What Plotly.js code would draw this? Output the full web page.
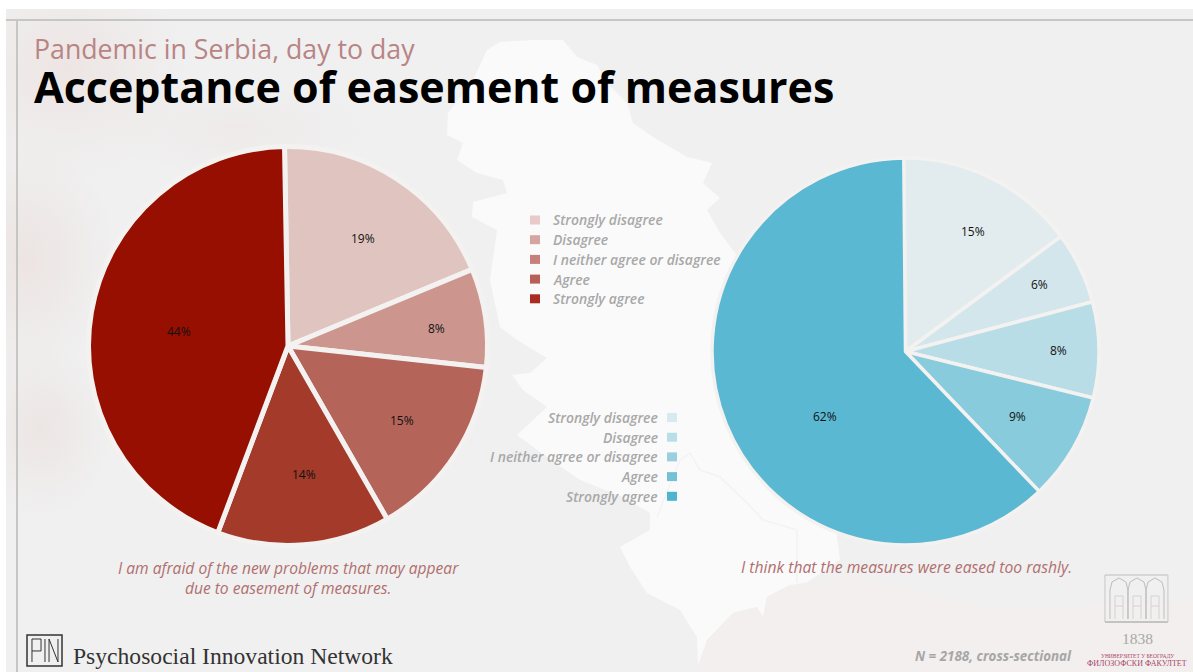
<!DOCTYPE html>
<html>
<head>
<meta charset="utf-8">
<script src="https://cdn.plot.ly/plotly-3.0.1.min.js"></script>
<style>
  html, body { margin: 0; padding: 0; background: #fff; overflow: hidden; }
  #stage { position: absolute; left: 0; top: 0; width: 1193px; height: 672px; }
  #haze { position: absolute; left: 6px; top: 9px; width: 1187px; height: 663px; background:
    radial-gradient(ellipse 120px 110px at 60px 60px, rgba(226,190,184,.22), transparent),
    radial-gradient(ellipse 90px 120px at 20px 250px, rgba(220,180,175,.20), transparent),
    radial-gradient(ellipse 70px 90px at 35px 420px, rgba(220,180,175,.18), transparent),
    radial-gradient(ellipse 130px 50px at 230px 120px, rgba(226,200,195,.15), transparent),
    #f0f0f0; }
  #chart { position: absolute; left: 0; top: 0; width: 1193px; height: 672px; }
</style>
</head>
<body>
<div id="stage"><div id="haze"></div><div id="chart"></div></div>
<script>
// Survey answers, shared scale for both pies
const answers = ['Strongly disagree', 'Disagree', 'I neither agree or disagree', 'Agree', 'Strongly agree'];
const afraidValues = [19, 8, 15, 14, 44];
const rashlyValues = [15, 6, 8, 9, 62];

// Slice and legend colours
const redSlices = ['#e0c4bf', '#cc968e', '#b5645a', '#a33a2a', '#960f00'];
const blueSlices = ['#e2ecef', '#d2e6ec', '#b8dde7', '#88cbdd', '#5ab8d3'];
const redKeys = ['#e8cbc8', '#d4a5a1', '#c67f7a', '#b85f56', '#a82c20'];
const blueKeys = ['#d8e9f0', '#b8dfe8', '#9acfe0', '#74c1d6', '#4fb5cf'];

// Where each percentage sits on its pie
const afraidSpots = [[363,238],[436,328],[402,420],[304,474],[179,331]];
const rashlySpots = [[973,231],[1039,285],[1058,350],[1017,416],[825,416]];

const W = 1193, H = 672;
const fx = x => x / W;
const fy = y => 1 - y / H;

// Builds a paper-referenced SVG path from page positions
function pathOf(points, close) {
  const cmds = points.map((p, i) => (i ? 'L' : 'M') + fx(p[0]).toFixed(4) + ' ' + fy(p[1]).toFixed(4));
  return cmds.join(' ') + (close ? ' Z' : '');
}
function lineShape(points, color, width, close, fill) {
  return { type: 'path', xref: 'paper', yref: 'paper', layer: 'below', path: pathOf(points, close),
           line: { color: color, width: width }, fillcolor: fill || 'rgba(0,0,0,0)' };
}
function boxShape(x0, y0, x1, y1, fill, color, width) {
  return { type: 'rect', xref: 'paper', yref: 'paper', layer: 'below',
           x0: fx(x0), x1: fx(x1), y0: fy(y0), y1: fy(y1),
           fillcolor: fill, line: { color: color || fill, width: width === undefined ? 0 : width } };
}
function label(text, x, y, size, color, opts) {
  return Object.assign({ xref: 'paper', yref: 'paper', x: fx(x), y: fy(y), text: text, showarrow: false,
    xanchor: 'left', yanchor: 'middle', align: 'left',
    font: { family: '"Open Sans", sans-serif', size: size, color: color } }, opts || {});
}

// Country outline behind the charts
const countryOutline = [[487,50],[500,42],[533,40],[563,40],[577,57],[597,65],[607,83],[627,103],[633,123],[653,137],
  [687,157],[712,163],[703,183],[720,198],[707,210],[720,233],[770,300],[830,480],[840,560],[800,587],[790,585],
  [767,597],[763,617],[757,607],[733,613],[707,640],[698,665],[697,637],[680,610],[647,593],[630,567],[620,547],
  [650,530],[650,513],[623,497],[580,480],[547,457],[517,435],[547,407],[523,390],[512,375],[530,373],[547,358],
  [517,340],[500,327],[490,280],[497,230],[472,217],[473,202],[507,193],[503,180],[477,173],[457,160],[463,143],
  [447,135],[448,113],[473,80]];
const southBorder = [[657,517],[680,460],[690,453],[700,470],[720,477],[747,503],[763,520],[797,530],[797,583]];
const southeastLand = [[698,672],[707,640],[733,613],[757,607],[763,617],[767,597],[790,585],[860,575],[1000,610],[1193,600],[1193,672]];

const shapes = [
  boxShape(6, 19, 1193, 21, '#c6c6c6'),
  boxShape(16, 19, 18, 672, '#c6c6c6'),
  lineShape(countryOutline, 'rgba(0,0,0,0)', 0, true, '#fafafa'),
  lineShape(southeastLand, 'rgba(0,0,0,0)', 0, true, '#f2efee'),
  lineShape(southBorder, '#f3f3f3', 1.5, false),
  // PIN mark
  boxShape(27, 635, 62, 666, 'rgba(0,0,0,0)', '#333333', 1.5),
  lineShape([[32,662],[32,639],[41,639],[41,651],[32,651]], '#333333', 1),
  lineShape([[45,639],[45,662]], '#333333', 1),
  lineShape([[49,662],[49,639],[58,662],[58,639]], '#333333', 1),
  // Faculty building mark
  lineShape([[1105,575],[1168,575]], '#bdbdbd', 1),
  lineShape([[1105,622],[1168,622]], '#b5b5b5', 1.5),
  lineShape([[1105,575],[1105,622]], '#c6c6c6', 1),
  lineShape([[1168,575],[1168,622]], '#c6c6c6', 1),
  lineShape([[1110,619],[1110,590],[1112,582],[1119,578],[1126,582],[1128,590],[1128,619]], '#bdbdbd', 1),
  lineShape([[1128,619],[1128,590],[1130,582],[1137,578],[1144,582],[1146,590],[1146,619]], '#bdbdbd', 1),
  lineShape([[1146,619],[1146,590],[1148,582],[1155,578],[1162,582],[1164,590],[1164,619]], '#bdbdbd', 1),
  lineShape([[1115,619],[1115,596],[1123,596],[1123,619]], '#d2d2d2', 1),
  lineShape([[1133,619],[1133,596],[1141,596],[1141,619]], '#d2d2d2', 1),
  lineShape([[1151,619],[1151,596],[1159,596],[1159,619]], '#d2d2d2', 1),
  lineShape([[1115,606],[1123,606]], '#d2d2d2', 1),
  lineShape([[1133,606],[1141,606]], '#d2d2d2', 1),
  lineShape([[1151,606],[1159,606]], '#d2d2d2', 1)
];

const serif = '"Liberation Serif", serif';
const sans = '"Open Sans", sans-serif';
const annotations = [
  label('Pandemic in Serbia, day to day', 31.5, 49, 26.7, '#b98484'),
  label('<b>Acceptance of easement of measures</b>', 31.5, 86, 43, '#000000'),
  label('<i>I am afraid of the new problems that may appear<br>due to easement of measures.</i>', 288, 578, 15.6, '#b06f6f',
        { xanchor: 'center', align: 'center' }),
  label('<i>I think that the measures were eased too rashly.</i>', 906, 567, 15.7, '#b06f6f', { xanchor: 'center', align: 'center' }),
  label('Psychosocial Innovation Network', 71, 656, 23.6, '#333333', { font: { family: serif, size: 23.6, color: '#333333' } }),
  label('<i><b>N = 2188, cross-sectional</b></i>', 1074, 656, 13.4, '#a6a6a6', { xanchor: 'right' }),
  label('1838', 1137, 638, 15.5, '#a8a8a8', { xanchor: 'center', font: { family: serif, size: 15.5, color: '#a8a8a8' } }),
  label('УНИВЕРЗИТЕТ У БЕОГРАДУ', 1137, 656, 5.5, '#a8456a', { xanchor: 'center', font: { family: serif, size: 5.5, color: '#a8456a' } }),
  label('ФИЛОЗОФСКИ ФАКУЛТЕТ', 1137, 663, 8, '#a8456a', { xanchor: 'center', font: { family: serif, size: 8, color: '#a8456a' } })
];

// Hand-placed keys: one reads left to right, the other right to left
const keyFont = { family: sans, size: 13.9, weight: 600, color: '#a8a8a8' };
answers.forEach((a, i) => {
  const y = 220 + i * 19.7;
  shapes.push(boxShape(530, y - 4.5, 540, y + 4.5, redKeys[i]));
  annotations.push(label('<i>' + a + '</i>', 551, y, 13.9, '#a8a8a8', { font: keyFont }));
  const y2 = 417.5 + i * 19.7;
  shapes.push(boxShape(667, y2 - 4.5, 677, y2 + 4.5, blueKeys[i]));
  annotations.push(label('<i>' + a + '</i>', 660, y2, 13.9, '#a8a8a8', { xanchor: 'right', align: 'right', font: keyFont }));
});

// Percent labels come straight from the slice values
function percentLabels(values, spots) {
  values.forEach((v, i) => {
    annotations.push(label(v + '%', spots[i][0], spots[i][1], 12, '#111111', { xanchor: 'center', align: 'center' }));
  });
}
percentLabels(afraidValues, afraidSpots);
percentLabels(rashlyValues, rashlySpots);

function pie(values, colors, cx, cy, r, seam, turn) {
  return {
    type: 'pie', labels: answers, values: values, sort: false, direction: 'clockwise', rotation: turn,
    marker: { colors: colors, line: { color: '#f3f2f1', width: seam } },
    textinfo: 'none', hoverinfo: 'label+percent', showlegend: false,
    domain: { x: [fx(cx - r), fx(cx + r)], y: [fy(cy + r), fy(cy - r)] }
  };
}

Plotly.newPlot('chart',
  [pie(afraidValues, redSlices, 288, 346, 199.5, 5, -1), pie(rashlyValues, blueSlices, 905.5, 351.5, 193.5, 3.5, -0.5)],
  { width: W, height: H, margin: { l: 0, r: 0, t: 0, b: 0 }, paper_bgcolor: 'rgba(0,0,0,0)', plot_bgcolor: 'rgba(0,0,0,0)',
    shapes: shapes, annotations: annotations, showlegend: false },
  { displayModeBar: false, responsive: false });
</script>
</body>
</html>
